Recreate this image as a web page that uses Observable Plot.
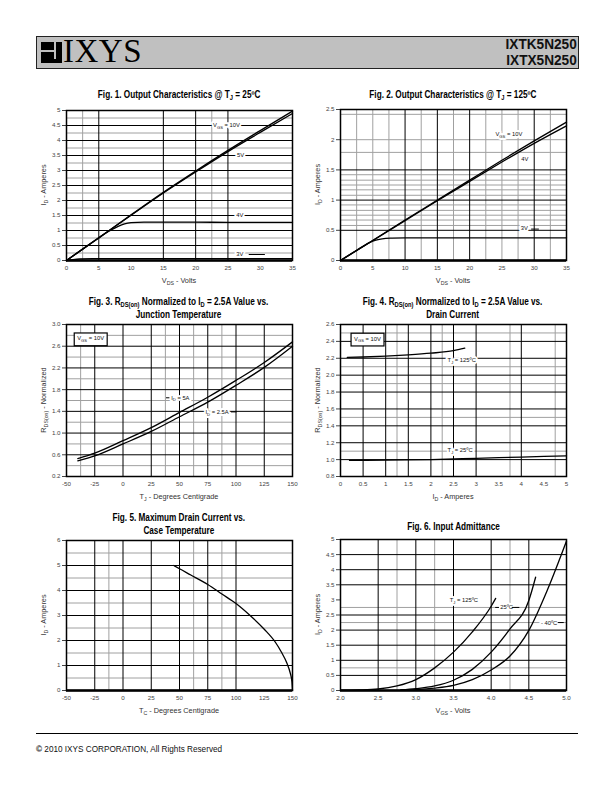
<!DOCTYPE html>
<html><head><meta charset="utf-8">
<script src="https://cdn.jsdelivr.net/npm/d3@7"></script>
<script src="https://cdn.jsdelivr.net/npm/@observablehq/plot@0.6"></script>
<style>
html,body{margin:0;padding:0;background:#fff}
body{position:relative;width:612px;height:792px;overflow:hidden;font-family:"Liberation Sans",Arial,sans-serif}
.hdr{position:absolute;left:36px;top:36px;width:541px;height:31px;background:#c0c0c0;border:1px solid #222}
.logo{position:absolute;left:4px;top:5px;width:21px;height:21px;background:#000}
.logo .h{position:absolute;left:0;top:8px;width:13px;height:2px;background:#c0c0c0}
.logo .v{position:absolute;left:13px;top:0;width:2px;height:17px;background:#c0c0c0}
.ixys{position:absolute;left:26px;top:-4px;font-family:"Liberation Serif","Times New Roman",serif;font-size:33px;letter-spacing:0.5px;color:#000}
.pn{position:absolute;right:1px;top:-1px;text-align:right;font-weight:bold;font-size:14.5px;line-height:16px;color:#111;transform:scaleX(0.94);transform-origin:right center}
.title{position:absolute;width:300px;text-align:center;color:#000;font-size:10px;line-height:12.5px}
.title span{display:inline-block;vertical-align:top;font-family:"Liberation Sans",Arial,sans-serif;font-weight:bold;font-size:10px;line-height:12.5px;transform:scaleX(0.82);transform-origin:center;white-space:nowrap}
.title sub{font-size:7px;vertical-align:-2px;line-height:0}
.chart{position:absolute}
.foot{position:absolute;left:36px;top:733px;width:542px;border-top:1px solid #000}
.copy{position:absolute;left:36px;top:745px;font-size:8.2px;color:#111}
</style></head><body>
<div class="hdr"><div class="logo"><div class="h"></div><div class="v"></div></div><div class="ixys">IXYS</div><div class="pn">IXTK5N250<br>IXTX5N250</div></div>

<div class="title" style="left:29px;top:89px"><span>Fig. 1. Output Characteristics @ T<sub>J</sub> = 25ºC</span></div>
<div class="title" style="left:303px;top:89px"><span>Fig. 2. Output Characteristics @ T<sub>J</sub> = 125ºC</span></div>
<div class="title" style="left:29px;top:296px"><span>Fig. 3. R<sub>DS(on)</sub> Normalized to I<sub>D</sub> = 2.5A Value vs.<br>Junction Temperature</span></div>
<div class="title" style="left:303px;top:296px"><span>Fig. 4. R<sub>DS(on)</sub> Normalized to I<sub>D</sub> = 2.5A Value vs.<br>Drain Current</span></div>
<div class="title" style="left:29px;top:512px"><span>Fig. 5. Maximum Drain Current vs.<br>Case Temperature</span></div>
<div class="title" style="left:303px;top:521px"><span>Fig. 6. Input Admittance</span></div>

<div id="c1" class="chart" style="left:20px;top:104px"></div>
<div id="c2" class="chart" style="left:294px;top:103px"></div>
<div id="c3" class="chart" style="left:20px;top:318px"></div>
<div id="c4" class="chart" style="left:294px;top:318px"></div>
<div id="c5" class="chart" style="left:20px;top:534px"></div>
<div id="c6" class="chart" style="left:294px;top:533px"></div>

<div class="foot"></div>
<div class="copy"><b>©</b> 2010 IXYS CORPORATION, All Rights Reserved</div>

<script>
// ---------- Fig 1 data ----------
const f1XTicks = [0,5,10,15,20,25,30,35];
const f1YTicks = [0,0.5,1,1.5,2,2.5,3,3.5,4,4.5,5];
const f1GridXMajor = [5,15,20,25];
const f1GridXMinor = [2.5,22.5];
const f1GridYMajor = [0.5,1,1.5,2,2.5,3,3.5,4,4.5];
const f1GridYMinor = [0.25,0.75,1.25,1.75,2.25,2.75,3.25,3.75,4.25,4.75];
const f1Vds = [0,5,10,15,20,25,30,35];
const f1Id10V = [0,0.76,1.52,2.27,2.98,3.67,4.33,4.98];
const f1Id5V = [0,0.76,1.51,2.25,2.95,3.63,4.27,4.90];
const f1Vds4V = [0,2.5,5,6,7,8,9,10,12,15,20,25,30,35];
const f1Id4V = [0,0.38,0.75,0.9,1.03,1.14,1.22,1.26,1.28,1.28,1.28,1.27,1.27,1.27];
const f1Vds3V = [0,1,2,4,35];
const f1Id3V = [0,0.03,0.05,0.06,0.06];
const f1Notes = [
  {t:"V_{GS} = 10V", x:22.7, y:4.5},
  {t:"5V", x:26.4, y:3.52},
  {t:"4V", x:26.3, y:1.5},
  {t:"3V", x:26.3, y:0.22}
];
const f1Leaders = [{y:1.5, x1:28.3, x2:30.8},{y:0.2, x1:28.3, x2:30.8}];

// ---------- Fig 2 data ----------
const f2XTicks = [0,5,10,15,20,25,30,35];
const f2YTicks = [0,0.5,1,1.5,2,2.5];
const f2GridXMajor = [10,15,20,30];
const f2GridXMinor = [2.5,5,7.5,12.5,17.5,22.5,25,27.5,32.5];
const f2GridYMajor = [0.5,1,1.5];
const f2GridYMinor = [0.58,0.67,0.75,0.83,0.92,1.08,1.17,1.25,1.33,1.42,1.79,2.0,2.42];
const f2Vds = [0,5,10,15,20,25,30,35];
const f2Id10V = [0,0.33,0.67,1.0,1.33,1.66,1.98,2.29];
const f2Id4V = [0,0.33,0.66,0.99,1.31,1.63,1.94,2.23];
const f2Vds3V = [0,2.5,5,6,7,8,10,35];
const f2Id3V = [0,0.17,0.32,0.35,0.365,0.37,0.375,0.375];
const f2Notes = [
  {t:"V_{GS} = 10V", x:24.0, y:2.09},
  {t:"4V", x:28.0, y:1.68},
  {t:"3V", x:27.9, y:0.53}
];
const f2Leaders = [{y:0.52, x1:29.6, x2:30.8}];

// ---------- Fig 3 data ----------
const f3XTicks = [-50,-25,0,25,50,75,100,125,150];
const f3YTicks = [0.2,0.6,1.0,1.4,1.8,2.2,2.6,3.0];
const f3GridXMajor = [-25,0,25,50,75,100,125];
const f3GridXMinor = [-37.5,37.5,62.5,87.5];
const f3GridYMajor = [0.6,1.0,1.4,1.8,2.2,2.6];
const f3GridYMinor = [0.4,0.8,1.2,1.6,2.0,2.4,2.8];
const f3Tj = [-40,-25,0,25,50,75,100,125,150];
const f3R5A = [0.53,0.63,0.86,1.10,1.38,1.66,1.97,2.30,2.68];
const f3R25A = [0.49,0.58,0.80,1.03,1.30,1.57,1.88,2.21,2.60];
const f3Notes = [
  {t:"I_{D} = 5A", x:42.6, y:1.65},
  {t:"I_{D} = 2.5A", x:73, y:1.39}
];
const f3Boxes = [{t:"V_{GS} = 10V", x:-40.5, y:2.74}];
const f3Leaders = [{y:1.65, x1:38.5, x2:41.5}, {y:1.39, x1:96, x2:101}];

// ---------- Fig 4 data ----------
const f4XTicks = [0,0.5,1,1.5,2,2.5,3,3.5,4,4.5,5];
const f4YTicks = [0.8,1.0,1.2,1.4,1.6,1.8,2.0,2.2,2.4,2.6];
const f4GridXMajor = [0.5,1,1.5,2,2.5,3,4];
const f4GridXMinor = [1.25,2.25,3.75,4.75];
const f4GridYMajor = [1.0,1.2,1.4,1.6,1.8,2.0,2.2,2.4];
const f4GridYMinor = [1.1,1.5,1.9,2.1,2.5];
const f4Id125 = [0.15,0.5,1.0,1.5,2.0,2.5,2.75];
const f4R125 = [2.21,2.215,2.225,2.24,2.26,2.29,2.32];
const f4Id25 = [0.2,1,2,3,4,5];
const f4R25 = [0.99,0.995,1.0,1.015,1.03,1.045];
const f4Notes = [
  {t:"T_{J} = 125ºC", x:2.37, y:2.175},
  {t:"T_{J} = 25ºC", x:2.37, y:1.114}
];
const f4Boxes = [{t:"V_{GS} = 10V", x:0.3, y:2.43}];
const f4Leaders = [];

// ---------- Fig 5 data ----------
const f5XTicks = [-50,-25,0,25,50,75,100,125,150];
const f5YTicks = [0,1,2,3,4,5,6];
const f5GridXMajor = [-25,0,25,50,75,100];
const f5GridXMinor = [-12.5,62.5,87.5];
const f5GridYMajor = [1,2,3,4,5];
const f5GridYMinor = [0.5,1.5,2.5,3.5,4.5,5.5];
const f5Tc = [45,50,60,75,87.5,100,112.5,125,135,140,145,148,149.5,150];
const f5Id = [5.0,4.87,4.62,4.24,3.86,3.48,3.0,2.45,1.92,1.55,1.1,0.7,0.35,0];

// ---------- Fig 6 data ----------
const f6XTicks = [2.0,2.5,3.0,3.5,4.0,4.5,5.0];
const f6YTicks = [0,0.5,1,1.5,2,2.5,3,3.5,4,4.5,5];
const f6GridXMajor = [2.5,3.0,3.5,4.0,4.5];
const f6GridXMinor = [2.75,3.25,4.25];
const f6GridYMajor = [0.5,1,1.5,2,2.5,3.5,4,4.5];
const f6GridYMinor = [0.75,2.25,2.75];
const f6Vgs125 = [2.0,2.25,2.5,2.75,3.0,3.25,3.5,3.75,4.0,4.06];
const f6Id125 = [0.01,0.02,0.05,0.15,0.36,0.75,1.27,1.94,2.79,3.05];
const f6Vgs25 = [2.8,3.0,3.25,3.5,3.75,4.0,4.25,4.5,4.59];
const f6Id25 = [0.02,0.06,0.15,0.34,0.7,1.27,2.04,2.98,3.75];
const f6VgsM40 = [2.8,3.0,3.25,3.5,3.75,4.0,4.25,4.5,4.75,5.0];
const f6IdM40 = [0.01,0.03,0.08,0.17,0.36,0.68,1.14,1.99,3.35,4.95];
const f6Notes = [
  {t:"T_{J} = 125ºC", x:3.45, y:2.99},
  {t:"25ºC", x:4.12, y:2.76},
  {t:"- 40ºC", x:4.66, y:2.24}
];
const f6Leaders = [{y:2.75,x1:4.06,x2:4.11},{y:2.75,x1:4.28,x2:4.38},{y:2.25,x1:4.89,x2:4.97}];

// ---------- helpers ----------
const NS = "http://www.w3.org/2000/svg";
function richify(el, str, size) {
  el.textContent = "";
  let shift = 0;
  const re = /_\{([^}]*)\}|([^_]+|_)/g;
  let m;
  while ((m = re.exec(str))) {
    const t = document.createElementNS(NS, "tspan");
    let target = 0, txt;
    if (m[1] !== undefined) { target = size * 0.3; txt = m[1]; t.setAttribute("font-size", size * 0.72); }
    else txt = m[2];
    t.textContent = txt;
    if (target !== shift) { t.setAttribute("dy", target - shift); shift = target; }
    el.appendChild(t);
  }
}
const pts = (xs, ys) => xs.map((x, i) => ({x, y: ys[i]}));
const str = d => String(d);
const f1d = d3.format(".1f");

function makeChart(id, cfg) {
  const W = 280, ml = 46, mr = 8, mt = 6, mb = 30, H = cfg.height;
  const FS = 6.2, NFS = 5.8;
  const marks = [
    Plot.ruleX(cfg.gxMinor, {stroke: "#a0a0a0", strokeWidth: 1}),
    Plot.ruleY(cfg.gyMinor, {stroke: "#a0a0a0", strokeWidth: 1}),
    Plot.ruleX(cfg.gxMajor, {stroke: "#000", strokeWidth: 1}),
    Plot.ruleY(cfg.gyMajor, {stroke: "#000", strokeWidth: 1})
  ];
  if (cfg.thickBase) marks.push(Plot.ruleY([cfg.yDomain[0]], {stroke: "#000", strokeWidth: 2.5}));
  for (const s of cfg.series) {
    marks.push(Plot.line(s, {x: "x", y: "y", stroke: "#000", strokeWidth: 1.3, curve: "monotone-x"}));
  }
  const notes = cfg.notes || [];
  const boxes = cfg.boxes || [];
  if (notes.length) {
    marks.push(Plot.text(notes, {x: "x", y: "y", text: "t", textAnchor: "start", fontSize: NFS, fill: "white", stroke: "white", strokeWidth: 4}));
  }
  if (cfg.leaders && cfg.leaders.length)
    marks.push(Plot.ruleY(cfg.leaders, {y: "y", x1: "x1", x2: "x2", stroke: "#000", strokeWidth: 1}));
  if (notes.length) {
    marks.push(Plot.text(notes, {x: "x", y: "y", text: "t", textAnchor: "start", fontSize: NFS, fill: "#111"}));
  }
  if (boxes.length) {
    marks.push(Plot.text(boxes, {x: "x", y: "y", text: "t", textAnchor: "start", fontSize: NFS, fill: "#111"}));
  }
  marks.push(Plot.frame({stroke: "#000", strokeWidth: 1.5}));
  const svg = Plot.plot({
    width: W, height: H,
    marginLeft: ml, marginRight: mr, marginTop: mt, marginBottom: mb,
    style: {fontFamily: "'Liberation Sans', Arial, sans-serif", fontSize: FS + "px", color: "#444", background: "transparent", overflow: "visible"},
    x: {domain: cfg.xDomain, ticks: cfg.xTicks, tickFormat: cfg.xFmt, tickSize: 0, tickPadding: 5, label: null},
    y: {domain: cfg.yDomain, ticks: cfg.yTicks, tickFormat: cfg.yFmt, tickSize: 4, tickPadding: 2, label: null},
    marks
  });
  document.getElementById(id).appendChild(svg);
  const boxSet = new Set(boxes.map(b => b.t));
  const noteSet = new Set(notes.map(b => b.t));
  const all = Array.from(svg.querySelectorAll("text"));
  for (const el of all) {
    const s = el.textContent;
    if (noteSet.has(s)) richify(el, s, NFS);
    else if (boxSet.has(s)) {
      richify(el, s, NFS);
      const bb = el.getBBox();
      const r = document.createElementNS(NS, "rect");
      r.setAttribute("x", bb.x - 3); r.setAttribute("y", bb.y - 2.5);
      r.setAttribute("width", bb.width + 6); r.setAttribute("height", bb.height + 5);
      r.setAttribute("fill", "white"); r.setAttribute("stroke", "#000"); r.setAttribute("stroke-width", 1.2);
      const tr = el.getAttribute("transform");
      if (tr) r.setAttribute("transform", tr);
      el.parentNode.insertBefore(r, el);
    }
  }
  const sel = d3.select(svg);
  const xl = sel.append("text").attr("x", ml + (W - ml - mr) / 2).attr("y", H - mb + 23)
    .attr("text-anchor", "middle").attr("font-size", 7.3).attr("fill", "#333")
    .attr("font-family", "'Liberation Sans', Arial, sans-serif");
  richify(xl.node(), cfg.xLabel, 7.3);
  const yl = sel.append("text").attr("transform", `translate(${ml - 20},${mt + (H - mt - mb) / 2}) rotate(-90)`)
    .attr("text-anchor", "middle").attr("font-size", 7.3).attr("fill", "#333")
    .attr("font-family", "'Liberation Sans', Arial, sans-serif");
  richify(yl.node(), cfg.yLabel, 7.3);
}

makeChart("c1", {
  height: 186, xDomain: [0, 35], yDomain: [0, 5], xTicks: f1XTicks, yTicks: f1YTicks, xFmt: str, yFmt: str,
  gxMajor: f1GridXMajor, gxMinor: f1GridXMinor, gyMajor: f1GridYMajor, gyMinor: f1GridYMinor, thickBase: true,
  series: [pts(f1Vds, f1Id10V), pts(f1Vds, f1Id5V), pts(f1Vds4V, f1Id4V), pts(f1Vds3V, f1Id3V)],
  notes: f1Notes, leaders: f1Leaders, xLabel: "V_{DS} - Volts", yLabel: "I_{D} - Amperes"
});
makeChart("c2", {
  height: 187, xDomain: [0, 35], yDomain: [0, 2.5], xTicks: f2XTicks, yTicks: f2YTicks, xFmt: str, yFmt: str,
  gxMajor: f2GridXMajor, gxMinor: f2GridXMinor, gyMajor: f2GridYMajor, gyMinor: f2GridYMinor, thickBase: true,
  series: [pts(f2Vds, f2Id10V), pts(f2Vds, f2Id4V), pts(f2Vds3V, f2Id3V)],
  notes: f2Notes, leaders: f2Leaders, xLabel: "V_{DS} - Volts", yLabel: "I_{D} - Amperes"
});
makeChart("c3", {
  height: 188, xDomain: [-50, 150], yDomain: [0.2, 3.0], xTicks: f3XTicks, yTicks: f3YTicks, xFmt: str, yFmt: f1d,
  gxMajor: f3GridXMajor, gxMinor: f3GridXMinor, gyMajor: f3GridYMajor, gyMinor: f3GridYMinor,
  series: [pts(f3Tj, f3R5A), pts(f3Tj, f3R25A)],
  notes: f3Notes, boxes: f3Boxes, leaders: f3Leaders, xLabel: "T_{J} - Degrees Centigrade", yLabel: "R_{DS(on)} - Normalized"
});
makeChart("c4", {
  height: 188, xDomain: [0, 5], yDomain: [0.8, 2.6], xTicks: f4XTicks, yTicks: f4YTicks, xFmt: str, yFmt: f1d,
  gxMajor: f4GridXMajor, gxMinor: f4GridXMinor, gyMajor: f4GridYMajor, gyMinor: f4GridYMinor,
  series: [pts(f4Id125, f4R125), pts(f4Id25, f4R25)],
  notes: f4Notes, boxes: f4Boxes, leaders: f4Leaders, xLabel: "I_{D} - Amperes", yLabel: "R_{DS(on)} - Normalized"
});
makeChart("c5", {
  height: 186, xDomain: [-50, 150], yDomain: [0, 6], xTicks: f5XTicks, yTicks: f5YTicks, xFmt: str, yFmt: str,
  gxMajor: f5GridXMajor, gxMinor: f5GridXMinor, gyMajor: f5GridYMajor, gyMinor: f5GridYMinor, thickBase: true,
  series: [pts(f5Tc, f5Id)],
  notes: [], xLabel: "T_{C} - Degrees Centigrade", yLabel: "I_{D} - Amperes"
});
makeChart("c6", {
  height: 187, xDomain: [2.0, 5.0], yDomain: [0, 5], xTicks: f6XTicks, yTicks: f6YTicks, xFmt: f1d, yFmt: str,
  gxMajor: f6GridXMajor, gxMinor: f6GridXMinor, gyMajor: f6GridYMajor, gyMinor: f6GridYMinor, thickBase: true,
  series: [pts(f6Vgs125, f6Id125), pts(f6Vgs25, f6Id25), pts(f6VgsM40, f6IdM40)],
  notes: f6Notes, leaders: f6Leaders, xLabel: "V_{GS} - Volts", yLabel: "I_{D} - Amperes"
});
</script>
</body></html>
